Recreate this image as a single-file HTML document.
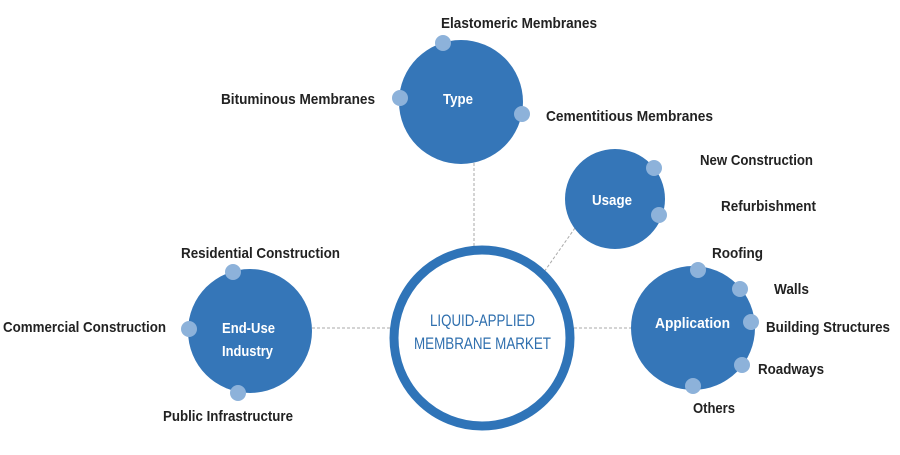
<!DOCTYPE html>
<html><head><style>
body{margin:0;background:#fff}
svg text{font-family:"Liberation Sans",sans-serif;font-weight:bold;font-size:15px;fill:#222}
</style></head><body>
<svg width="900" height="450" viewBox="0 0 900 450" xmlns="http://www.w3.org/2000/svg">
<g stroke="#aaa" stroke-width="1" stroke-dasharray="3,2" fill="none">
<line x1="474" y1="163" x2="474" y2="248"/>
<line x1="575" y1="228" x2="544" y2="272"/>
<line x1="312" y1="328" x2="390" y2="328"/>
<line x1="574" y1="328" x2="632" y2="328"/>
</g>
<circle cx="482" cy="338" r="88" fill="#fff" stroke="#2f74b8" stroke-width="9"/>
<text x="430" y="326" textLength="105" lengthAdjust="spacingAndGlyphs" style="fill:#2f6fae;font-size:17px;font-weight:normal">LIQUID-APPLIED</text>
<text x="414" y="349" textLength="137" lengthAdjust="spacingAndGlyphs" style="fill:#2f6fae;font-size:17px;font-weight:normal">MEMBRANE MARKET</text>
<g fill="#3576b8">
<circle cx="461" cy="102" r="62"/>
<circle cx="615" cy="199" r="50"/>
<circle cx="250" cy="331" r="62"/>
<circle cx="693" cy="328" r="62"/>
</g>
<g fill="#8db2da">
<circle cx="443" cy="43" r="8"/><circle cx="400" cy="98" r="8"/><circle cx="522" cy="114" r="8"/>
<circle cx="654" cy="168" r="8"/><circle cx="659" cy="215" r="8"/>
<circle cx="233" cy="272" r="8"/><circle cx="189" cy="329" r="8"/><circle cx="238" cy="393" r="8"/>
<circle cx="698" cy="270" r="8"/><circle cx="740" cy="289" r="8"/><circle cx="751" cy="322" r="8"/><circle cx="742" cy="365" r="8"/><circle cx="693" cy="386" r="8"/>
</g>
<text x="443" y="104" textLength="30" lengthAdjust="spacingAndGlyphs" style="fill:#fff">Type</text>
<text x="592" y="205" textLength="40" lengthAdjust="spacingAndGlyphs" style="fill:#fff">Usage</text>
<text x="222" y="333" textLength="53" lengthAdjust="spacingAndGlyphs" style="fill:#fff">End-Use</text>
<text x="222" y="356" textLength="51" lengthAdjust="spacingAndGlyphs" style="fill:#fff">Industry</text>
<text x="655" y="328" textLength="75" lengthAdjust="spacingAndGlyphs" style="fill:#fff">Application</text>
<g style="" >
<text x="441" y="28" textLength="156" lengthAdjust="spacingAndGlyphs">Elastomeric Membranes</text>
<text x="221" y="104" textLength="154" lengthAdjust="spacingAndGlyphs">Bituminous Membranes</text>
<text x="546" y="121" textLength="167" lengthAdjust="spacingAndGlyphs">Cementitious Membranes</text>
<text x="700" y="165" textLength="113" lengthAdjust="spacingAndGlyphs">New Construction</text>
<text x="721" y="211" textLength="95" lengthAdjust="spacingAndGlyphs">Refurbishment</text>
<text x="181" y="258" textLength="159" lengthAdjust="spacingAndGlyphs">Residential Construction</text>
<text x="3" y="332" textLength="163" lengthAdjust="spacingAndGlyphs">Commercial Construction</text>
<text x="163" y="421" textLength="130" lengthAdjust="spacingAndGlyphs">Public Infrastructure</text>
<text x="712" y="258" textLength="51" lengthAdjust="spacingAndGlyphs">Roofing</text>
<text x="774" y="294" textLength="35" lengthAdjust="spacingAndGlyphs">Walls</text>
<text x="766" y="332" textLength="124" lengthAdjust="spacingAndGlyphs">Building Structures</text>
<text x="758" y="374" textLength="66" lengthAdjust="spacingAndGlyphs">Roadways</text>
<text x="693" y="413" textLength="42" lengthAdjust="spacingAndGlyphs">Others</text>
</g>
</svg>
</body></html>
